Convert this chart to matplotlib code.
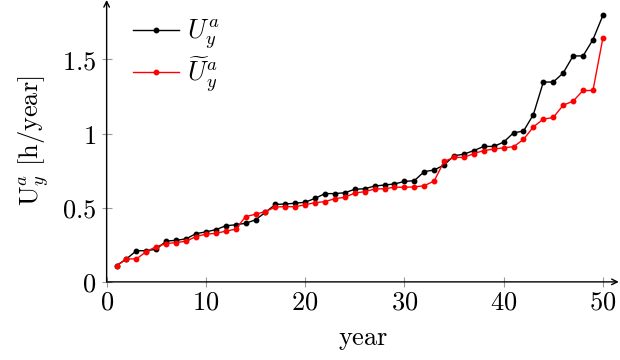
import matplotlib
matplotlib.use("Agg")
import matplotlib.pyplot as plt
from matplotlib.ticker import FixedLocator, FixedFormatter

plt.rcParams['mathtext.fontset'] = 'cm'
plt.rcParams['font.family'] = ['DejaVu Serif']

years = list(range(1, 51))
U = [0.11, 0.155, 0.21, 0.21, 0.22, 0.275, 0.28, 0.29, 0.325, 0.337,
     0.352, 0.378, 0.385, 0.395, 0.418, 0.469, 0.522, 0.525, 0.53, 0.537,
     0.563, 0.595, 0.595, 0.601, 0.624, 0.628, 0.646, 0.653, 0.66, 0.677,
     0.682, 0.743, 0.754, 0.788, 0.85, 0.861, 0.885, 0.913, 0.913, 0.942,
     1.005, 1.016, 1.128, 1.347, 1.347, 1.408, 1.523, 1.523, 1.633, 1.796]
U_tilde = [0.108, 0.155, 0.155, 0.204, 0.238, 0.258, 0.265, 0.274, 0.305, 0.322,
           0.327, 0.342, 0.355, 0.44, 0.456, 0.474, 0.505, 0.507, 0.507, 0.52,
           0.534, 0.541, 0.561, 0.57, 0.599, 0.608, 0.626, 0.628, 0.638, 0.638,
           0.64, 0.648, 0.68, 0.812, 0.839, 0.839, 0.865, 0.885, 0.895, 0.904,
           0.911, 0.96, 1.045, 1.097, 1.108, 1.191, 1.218, 1.29, 1.29, 1.644]
xticks = [0, 10, 20, 30, 40, 50]
xticklabels = ['$0$', '$10$', '$20$', '$30$', '$40$', '$50$']
yticks = [0, 0.5, 1, 1.5]
yticklabels = ['$0$', '$0.5$', '$1$', '$1.5$']

fig = plt.figure(figsize=(6.2, 3.6), dpi=100)
ax = fig.add_axes([0.172, 0.217, 0.826, 0.783])

ax.plot(years, U, color='black', lw=1.0, marker='o', ms=3.2, label=r'$U_y^a$')
ax.plot(years, U_tilde, color='red', lw=1.0, marker='o', ms=3.2, label=r'$\widetilde{U}_y^a$')

ax.set_xlim(0, 51.6)
ax.set_ylim(0, 1.9)
for s in ax.spines.values():
    s.set_visible(False)

# axis lines with arrows
ax.annotate('', xy=(1.0, 0), xytext=(0, 0), xycoords='axes fraction',
            arrowprops=dict(arrowstyle='->', color='black', lw=1.0, shrinkA=0, shrinkB=0))
ax.annotate('', xy=(0, 1.0), xytext=(0, 0), xycoords='axes fraction',
            arrowprops=dict(arrowstyle='->', color='black', lw=1.0, shrinkA=0, shrinkB=0))

ax.xaxis.set_major_locator(FixedLocator(xticks))
ax.xaxis.set_major_formatter(FixedFormatter(xticklabels))
ax.yaxis.set_major_locator(FixedLocator(yticks))
ax.yaxis.set_major_formatter(FixedFormatter(yticklabels))
ax.tick_params(axis='both', direction='inout', length=7, width=0.8, color='#999999',
               labelsize=19)
ax.tick_params(axis='x', pad=2)
ax.tick_params(axis='y', pad=4)

ax.set_xlabel(r'$\mathrm{year}$', fontsize=19, labelpad=9)
ax.set_ylabel(r'$\mathrm{U}_y^a\ [\mathrm{h/year}]$', fontsize=19, labelpad=7)

leg = ax.legend(loc='upper left', bbox_to_anchor=(0.03, 0.975), frameon=False,
                fontsize=19, handlelength=1.75, handletextpad=0.3, labelspacing=0.1,
                borderaxespad=0.0)

fig.savefig('out.png', dpi=100)
